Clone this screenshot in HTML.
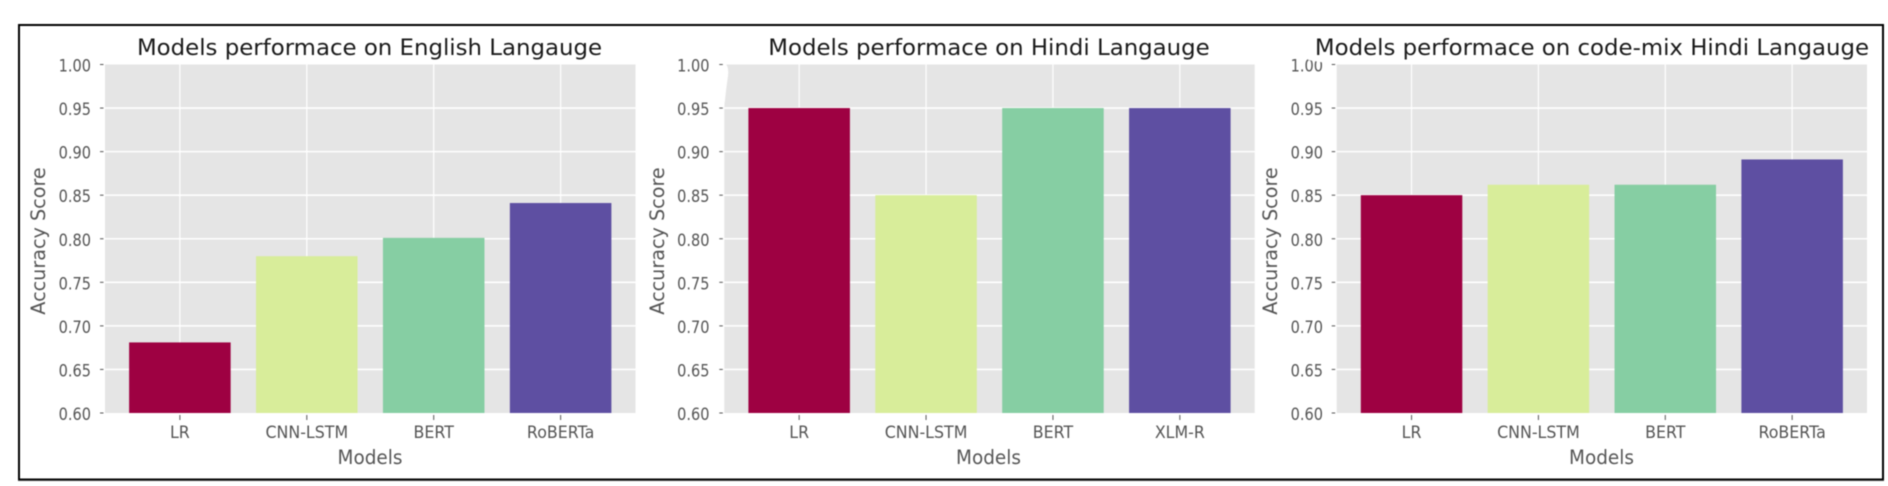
<!DOCTYPE html>
<html lang="en">
<head>
<meta charset="utf-8">
<title>Models performance charts</title>
<style>
  html, body { margin: 0; padding: 0; background: #fff; width: 1888px; height: 486px; overflow: hidden; }
  svg { display: block; filter: blur(0.45px); }
  text { font-family: "DejaVu Sans", "Liberation Sans", sans-serif; }
</style>
</head>
<body>
<svg id="figure" xmlns="http://www.w3.org/2000/svg" width="1888" height="486" viewBox="0 0 1888 486">
  <rect x="0" y="0" width="1888" height="486" fill="#ffffff"/>
  <rect x="19" y="25" width="1864" height="454.5" fill="none" stroke="#000000" stroke-width="2"/>
  <line x1="18" y1="480.5" x2="1884" y2="480.5" stroke="#444444" stroke-width="1"/>
</svg>
<script>
const yTickValues = [0.60, 0.65, 0.70, 0.75, 0.80, 0.85, 0.90, 0.95, 1.00];
const yTickLabels = ["0.60", "0.65", "0.70", "0.75", "0.80", "0.85", "0.90", "0.95", "1.00"];
const barColors = ["#9e0142", "#d8ed9a", "#86cea3", "#5e4fa2"];

const englishCategories = ["LR", "CNN-LSTM", "BERT", "RoBERTa"];
const englishValues = [0.681, 0.78, 0.801, 0.841];

const hindiCategories = ["LR", "CNN-LSTM", "BERT", "XLM-R"];
const hindiValues = [0.95, 0.85, 0.95, 0.95];

const codeMixCategories = ["LR", "CNN-LSTM", "BERT", "RoBERTa"];
const codeMixValues = [0.85, 0.862, 0.862, 0.891];

const yDomainMin = 0.60;
const yDomainMax = 1.00;
const plotTop = 64.5;
const plotBottom = 413;

const svg = document.getElementById('figure');
const NS = 'http://www.w3.org/2000/svg';

function make(tag, attrs, parent) {
  const el = document.createElementNS(NS, tag);
  for (const k in attrs) el.setAttribute(k, attrs[k]);
  parent.appendChild(el);
  return el;
}

function squeezedText(parent, str, x, y, size, fill, anchor, sx) {
  const el = make('text', {
    transform: 'translate(' + x + ' ' + y + ') scale(' + sx + ' 1)',
    'font-size': size,
    fill: fill,
    'text-anchor': anchor
  }, parent);
  el.textContent = str;
  return el;
}

function drawChart(cfg, categories, values) {
  const yScale = v => plotBottom - (v - yDomainMin) / (yDomainMax - yDomainMin) * (plotBottom - plotTop);
  const unit = (cfg.right - cfg.left) / 4.18;
  const xScale = i => cfg.left + (i + 0.59) * unit;

  const g = make('g', {}, svg);
  
  

  const bg = make('rect', { x: cfg.left, y: plotTop, width: cfg.right - cfg.left, height: plotBottom - plotTop, fill: '#e5e5e5' }, g);
  
  

  yTickValues.forEach((v, i) => {
    const y = yScale(v);
    if (i > 0 && i < yTickValues.length - 1) {
      const grid = make('line', { x1: cfg.left, x2: cfg.right, y1: y, y2: y, stroke: '#ffffff', 'stroke-width': 1.6 }, g);
      
      
    }
    const tick = make('line', { x1: cfg.left - 5, x2: cfg.left - 1.5, y1: y, y2: y, stroke: '#555555', 'stroke-width': 1 }, g);
    
    
    const label = squeezedText(g, yTickLabels[i], cfg.yTickRight - 1, y + 7, 16.5, '#555555', 'end', 0.88);
    
    
  });

  categories.forEach((c, i) => {
    const x = xScale(i);
    const grid = make('line', { x1: x, x2: x, y1: plotTop, y2: plotBottom, stroke: '#ffffff', 'stroke-width': 1.2 }, g);
    
    
    const tick = make('line', { x1: x, x2: x, y1: plotBottom + 2, y2: plotBottom + 7, stroke: '#555555', 'stroke-width': 1 }, g);
    
    
    const label = squeezedText(g, c, x, 438, 16.5, '#555555', 'middle', 0.96);
    
    
  });

  values.forEach((v, i) => {
    const x = xScale(i);
    const top = yScale(v);
    const bar = make('rect', { x: x - 0.4 * unit, y: top, width: 0.8 * unit, height: plotBottom - top, fill: barColors[i] }, g);
    
    
  });

  const title = squeezedText(g, cfg.title, cfg.titleX, 55, 22.2, '#1a1a1a', 'middle', 1.03);
  
  

  const xTitle = squeezedText(g, 'Models', cfg.xTitleX, 464, 19.4, '#555555', 'middle', 0.95);
  
  

  const yTitle = make('text', {
    transform: 'translate(' + cfg.yTitleX + ' 241) rotate(-90)',
    'font-size': 19.2,
    fill: '#555555',
    'text-anchor': 'middle'
  }, g);
  yTitle.textContent = 'Accuracy Score';
  
  

  return g;
}

drawChart({ name: 'english-chart', left: 105, right: 635.5, yTickRight: 92, yTitleX: 45, titleX: 369.5, xTitleX: 370,
  title: 'Models performace on English Langauge' }, englishCategories, englishValues);

const hindi = drawChart({ name: 'hindi-chart', left: 724.3, right: 1254.7, yTickRight: 710.5, yTitleX: 664, titleX: 989, xTitleX: 988.5,
  title: 'Models performace on Hindi Langauge' }, hindiCategories, hindiValues);

const codeMix = drawChart({ name: 'code-mix-chart', left: 1336.7, right: 1867, yTickRight: 1324, yTitleX: 1277, titleX: 1592, xTitleX: 1601.5,
  title: 'Models performace on code-mix Hindi Langauge' }, codeMixCategories, codeMixValues);

const notch = make('path', { d: 'M724 64 L726 64 Q729 68 728 76 Q726 90 725 100 L724 108 Z', fill: '#ffffff' }, hindi);



const labelClip = make('path', { d: 'M1308 57 L1331 57 L1331 63.5 L1320 62 L1308 60 Z', fill: '#ffffff' }, codeMix);


</script>
</body>
</html>
